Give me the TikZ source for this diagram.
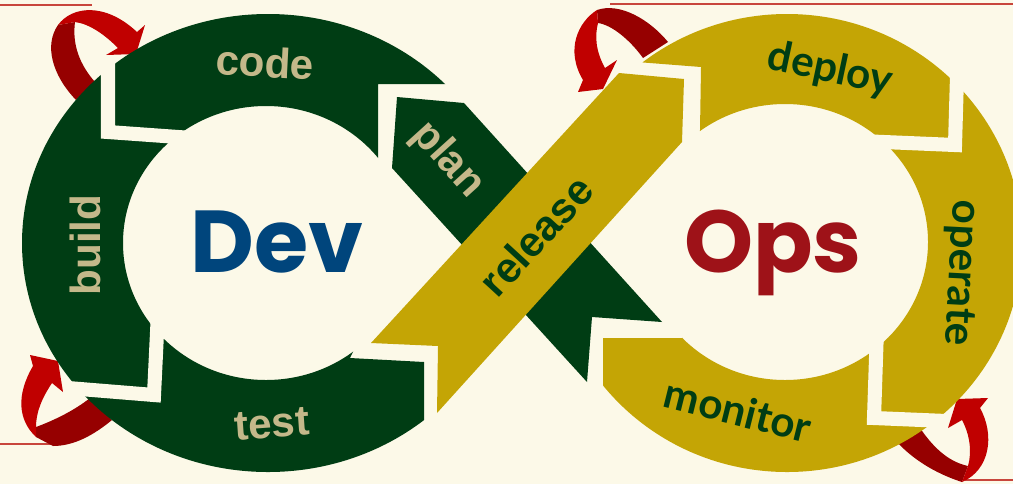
\documentclass[tikz,border=0pt]{standalone}
\usepackage{fontspec}
\setmainfont{Liberation Sans}
\newfontfamily\geofont{Poppins}
\newfontfamily\humfont{Lato}
\definecolor{bgcream}{HTML}{FCF9E8}
\definecolor{devgreen}{HTML}{003D14}
\definecolor{devtan}{HTML}{C4B88A}
\definecolor{opsgold}{HTML}{C4A505}
\definecolor{devblue}{HTML}{00457C}
\definecolor{opsred}{HTML}{9E1218}
\definecolor{arrowred}{HTML}{C00000}
\definecolor{arrowdark}{HTML}{960000}
\definecolor{edgered}{HTML}{C8463C}
\tikzset{
  lbl/.style={font=\bfseries\fontsize{24}{28}\selectfont,inner sep=0pt},
  opslbl/.style={inner sep=0pt,font=\humfont\bfseries\fontsize{24}{28}\selectfont,text=devgreen},
  big/.style={font=\geofont\bfseries\fontsize{50}{56}\selectfont,inner sep=0pt,anchor=base},
  gap/.style={draw=bgcream,line width=8pt},
}
\begin{document}
\begin{tikzpicture}[x=0.02cm,y=-0.02cm]
	\useasboundingbox (0,0) rectangle (1013,484);
	\fill[bgcream] (0,0) rectangle (1013,484);
		\draw[edgered,line width=0.9pt] (0,5)--(92,5);
		\draw[edgered,line width=0.9pt] (610,4)--(1013,4);
		\draw[edgered,line width=0.9pt] (0,444)--(53,444);
		\draw[edgered,line width=0.9pt] (965,480)--(1013,480);
	% red arrows
	\fill[arrowdark] (76,100) .. controls (52,75) and (44,45) .. (58,25)--(75,22) .. controls (72,45) and (80,65) .. (95,82)--cycle;
	\fill[arrowred] (58,25) .. controls (72,6) and (105,2) .. (137,32)--(145,25)--(136,54)--(106,55)--(118,48) .. controls (105,35) and (90,24) .. (75,22)--cycle;
	\fill[arrowdark] (36,427) .. controls (55,420) and (75,410) .. (90,398)--(112,420) .. controls (95,434) and (75,446) .. (53,446)--(36,437)--cycle;
	\fill[arrowred] (36,437) .. controls (18,420) and (16,395) .. (33,366)--(30,355)--(58,361)--(63,392)--(52,383) .. controls (42,398) and (36,412) .. (36,427)--cycle;
	\fill[arrowdark] (597,10) .. controls (620,2) and (650,20) .. (668,42)--(643,58) .. controls (630,40) and (612,25) .. (598,23)--cycle;
	\fill[arrowred] (597,10) .. controls (578,22) and (565,50) .. (583,80)--(578,92)--(603,89)--(617,60)--(605,68) .. controls (595,50) and (595,35) .. (598,23)--cycle;
	\fill[arrowdark] (920,428) .. controls (935,450) and (950,462) .. (968,466)--(962,482) .. controls (940,475) and (915,462) .. (896,441)--cycle;
	\fill[arrowred] (962,482) .. controls (990,470) and (995,435) .. (980,408)--(988,398)--(957,399)--(948,428)--(962,420) .. controls (970,435) and (972,452) .. (968,466)--cycle;
	% Dev ring
	\begin{scope}
		\clip (-10,-10)--(560,-10)--(560,84)--(378,84)--(378,300)--(350,358)--(424,362)--(424,500)--(-10,500)--cycle;
		\fill[devgreen,even odd rule] (268,243) ellipse [x radius=246,y radius=229] (266,243) ellipse [x radius=143,y radius=137];
	\end{scope}
	% Ops ring
	\begin{scope}
		\clip (1100,-10)--(1100,500)--(603,500)--(603,338)--(682,338)--(700,130)--(701,67)--(560,56)--(560,-10)--cycle;
		\fill[opsgold,even odd rule] (787,243) ellipse [x radius=235,y radius=229] (785,242) ellipse [x radius=143,y radius=138];
	\end{scope}
	% cuts
		\draw[gap] (108,62)--(108,132)--(192,138);
		\draw[gap] (68,388)--(154,395)--(158,312);
		\draw[gap] (957,76)--(955,145)--(860,141);
		\draw[gap] (877,328)--(874,418)--(946,421);
	% ribbons
	\fill[devgreen] (397,97)--(464,103)--(662,322)--(592,317)--(587,382)--(392,168)--cycle;
	\fill[opsgold] (619,73)--(684,79)--(682,142)--(437,413)--(438,346)--(371,343)--cycle;
	% labels
	\node[lbl,text=devtan,rotate=-3] (code) at (265,62) {code};
	\node[lbl,text=devtan,rotate=90] (build) at (85,245) {build};
	\node[lbl,text=devtan,rotate=4] (test) at (272,424) {test};
	\node[lbl,text=devtan,rotate=-47.9] (plan) at (448,160) {plan};
	\node[lbl,text=devgreen,rotate=47.4] (release) at (536,236) {release};
	\node[opslbl,rotate=-12] (deploy) at (830,70) {deploy};
	\node[opslbl,rotate=-93] (operate) at (960,273) {operate};
	\node[opslbl,rotate=-14] (monitor) at (738,410) {monitor};
	\node[big,text=devblue] (dev) at (277,272) {Dev};
	\node[big,text=opsred] (ops) at (773,272) {Ops};
\end{tikzpicture}
\end{document}
